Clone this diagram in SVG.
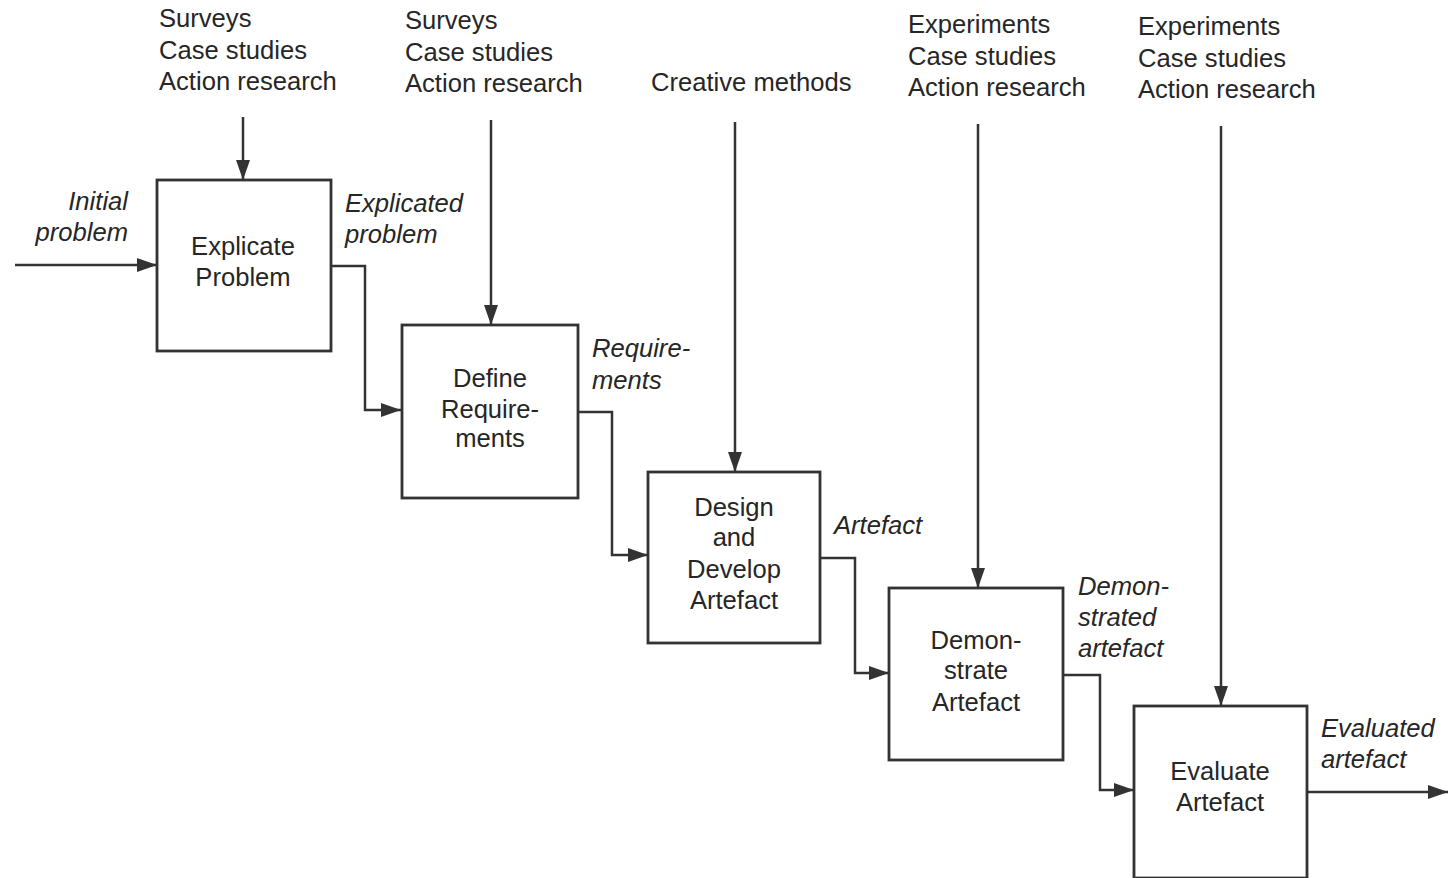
<svg xmlns="http://www.w3.org/2000/svg" width="1450" height="878" viewBox="0 0 1450 878">
<style>
.box{fill:#fff;stroke:#333;stroke-width:2.8}
.lbl{font-family:"Liberation Sans",Arial,sans-serif;font-size:25.6px;fill:#262626}
.ctr{text-anchor:middle}
.it{font-style:italic}
.con{fill:none;stroke:#333;stroke-width:2.5}
</style>
<defs>
<marker id="ah" markerUnits="userSpaceOnUse" markerWidth="20" markerHeight="16" viewBox="0 0 20 16" refX="20" refY="8" orient="auto">
<path d="M0,1 L20,8 L0,15 Z" fill="#333"/>
</marker>
</defs>
<rect width="1450" height="878" fill="#fff"/>
<g id="inputs" class="lbl">
<text x="159" y="27">Surveys</text>
<text x="159" y="59">Case studies</text>
<text x="159" y="90">Action research</text>
<text x="405" y="29">Surveys</text>
<text x="405" y="61">Case studies</text>
<text x="405" y="92">Action research</text>
<text x="651" y="91">Creative methods</text>
<text x="908" y="33">Experiments</text>
<text x="908" y="65">Case studies</text>
<text x="908" y="96">Action research</text>
<text x="1138" y="35">Experiments</text>
<text x="1138" y="67">Case studies</text>
<text x="1138" y="98">Action research</text>
</g>
<g id="connectors">
<path class="con" d="M15,265 H157" marker-end="url(#ah)"/>
<path class="con" d="M243,117 V180" marker-end="url(#ah)"/>
<path class="con" d="M491,120 V325" marker-end="url(#ah)"/>
<path class="con" d="M735,122 V472" marker-end="url(#ah)"/>
<path class="con" d="M978,124 V588" marker-end="url(#ah)"/>
<path class="con" d="M1221,126 V706" marker-end="url(#ah)"/>
<path class="con" d="M331,266 H365 V410 H401" marker-end="url(#ah)"/>
<path class="con" d="M578,412 H612 V555 H648" marker-end="url(#ah)"/>
<path class="con" d="M820,558 H855 V673 H889" marker-end="url(#ah)"/>
<path class="con" d="M1063,675 H1100 V790 H1134" marker-end="url(#ah)"/>
<path class="con" d="M1307,792 H1448" marker-end="url(#ah)"/>
</g>
<g id="flow-labels" class="lbl it">
<text x="128" y="210" text-anchor="end">Initial</text>
<text x="128" y="241" text-anchor="end">problem</text>
<text x="345" y="212">Explicated</text>
<text x="345" y="243">problem</text>
<text x="592" y="357">Require-</text>
<text x="592" y="389">ments</text>
<text x="834" y="534">Artefact</text>
<text x="1078" y="595">Demon-</text>
<text x="1078" y="626">strated</text>
<text x="1078" y="657">artefact</text>
<text x="1321" y="737">Evaluated</text>
<text x="1321" y="768">artefact</text>
</g>
<g id="explicate-problem">
<rect class="box" x="157" y="180" width="174" height="171"/>
<text class="lbl ctr" x="243" y="255">Explicate</text>
<text class="lbl ctr" x="243" y="286">Problem</text>
</g>
<g id="define-requirements">
<rect class="box" x="402" y="325" width="176" height="173"/>
<text class="lbl ctr" x="490" y="387">Define</text>
<text class="lbl ctr" x="490" y="418">Require-</text>
<text class="lbl ctr" x="490" y="447">ments</text>
</g>
<g id="design-develop">
<rect class="box" x="648" y="472" width="172" height="171"/>
<text class="lbl ctr" x="734" y="516">Design</text>
<text class="lbl ctr" x="734" y="546">and</text>
<text class="lbl ctr" x="734" y="578">Develop</text>
<text class="lbl ctr" x="734" y="609">Artefact</text>
</g>
<g id="demonstrate">
<rect class="box" x="889" y="588" width="174" height="172"/>
<text class="lbl ctr" x="976" y="649">Demon-</text>
<text class="lbl ctr" x="976" y="679">strate</text>
<text class="lbl ctr" x="976" y="711">Artefact</text>
</g>
<g id="evaluate">
<rect class="box" x="1134" y="706" width="173" height="172"/>
<text class="lbl ctr" x="1220" y="780">Evaluate</text>
<text class="lbl ctr" x="1220" y="811">Artefact</text>
</g>
</svg>
